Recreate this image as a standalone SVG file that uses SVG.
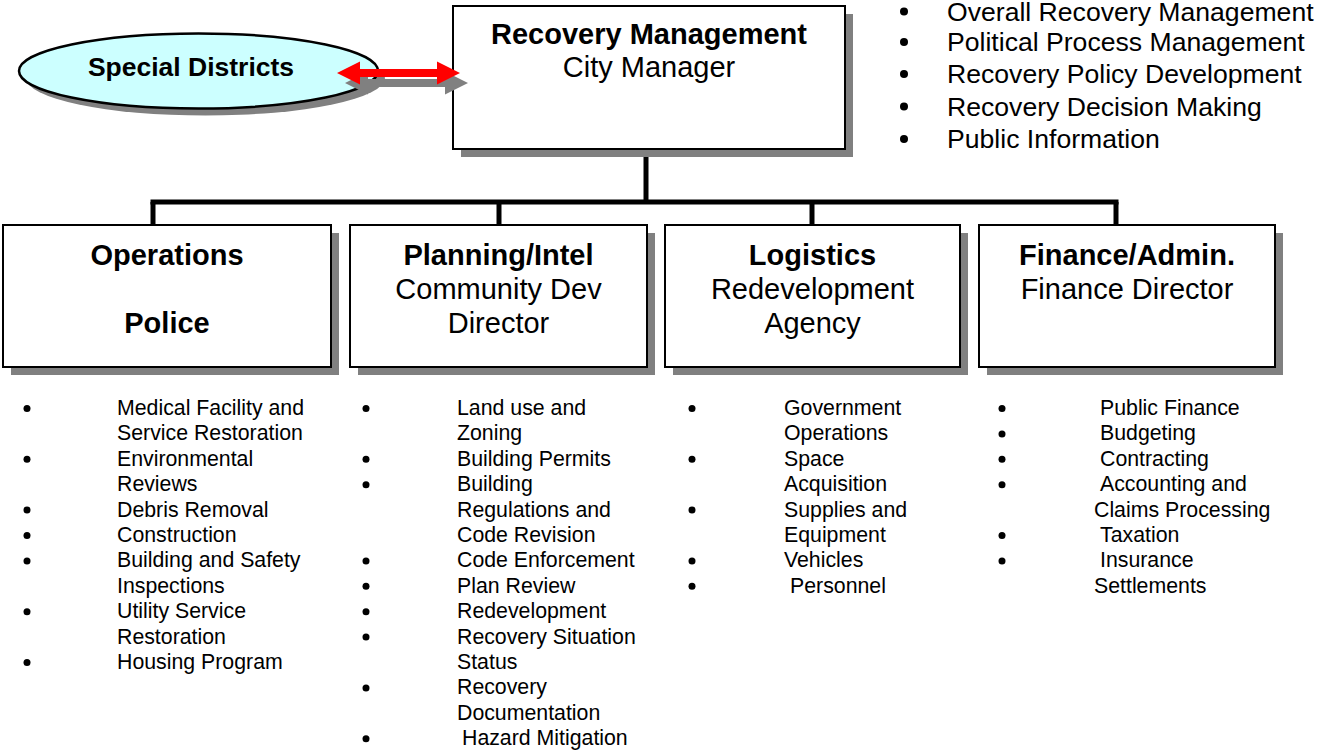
<svg xmlns="http://www.w3.org/2000/svg" width="1317" height="755" viewBox="0 0 1317 755">
<style>
.sh{fill:#808080;stroke:none}
.box{fill:#fff;stroke:#000;stroke-width:2}
.t{font-family:"Liberation Sans",Arial,sans-serif;fill:#000}
.tb{font-weight:bold;font-size:29px;text-anchor:middle}
.tr{font-size:29px;text-anchor:middle}
.li{font-size:21.3px}
.top{font-size:26.6px}
.bu{fill:#000}
.conn{stroke:#000;stroke-width:5;fill:none}
</style>
<rect width="1317" height="755" fill="#fff"/>

<g id="connectors">
<line class="conn" x1="646" y1="149" x2="646" y2="202"/>
<line class="conn" x1="150.5" y1="202" x2="1118.5" y2="202"/>
<line class="conn" x1="153" y1="202" x2="153" y2="226"/>
<line class="conn" x1="499" y1="202" x2="499" y2="226"/>
<line class="conn" x1="812" y1="202" x2="812" y2="226"/>
<line class="conn" x1="1116" y1="202" x2="1116" y2="226"/>
</g>

<g id="node-special-districts">
<ellipse cx="205.5" cy="78" rx="179.5" ry="37.5" class="sh"/>
<ellipse cx="198.5" cy="71" rx="179.5" ry="37.5" fill="#CCFFFF" stroke="#000" stroke-width="2.5"/>
<text class="t" x="191" y="76" font-size="26.5" font-weight="bold" text-anchor="middle">Special Districts</text>
</g>

<g id="node-recovery-management">
<rect x="461" y="14" width="392" height="143" class="sh"/>
<rect x="453" y="6" width="392" height="143" class="box"/>
<text class="t tb" x="649" y="44">Recovery Management</text>
<text class="t tr" x="649" y="77">City Manager</text>
</g>

<g id="link-arrow">
<polygon class="sh" points="345,83 368,71.5 368,79 445,79 445,71.5 468,83 445,94.5 445,87 368,87 368,94.5"/>
<polygon fill="#FF0000" points="337,73 360,61.5 360,69 437,69 437,61.5 460,73 437,84.5 437,77 360,77 360,84.5"/>
</g>

<g id="node-top-bullets">
<circle class="bu" cx="904" cy="11.5" r="4"/>
<circle class="bu" cx="904" cy="42" r="4"/>
<circle class="bu" cx="904" cy="74" r="4"/>
<circle class="bu" cx="904" cy="106.5" r="4"/>
<circle class="bu" cx="904" cy="139" r="4"/>
<text class="t top" x="947" y="21">Overall Recovery Management</text>
<text class="t top" x="947" y="51">Political Process Management</text>
<text class="t top" x="947" y="83">Recovery Policy Development</text>
<text class="t top" x="947" y="115.5">Recovery Decision Making</text>
<text class="t top" x="947" y="148">Public Information</text>
</g>

<g id="node-operations">
<rect x="11" y="233" width="328" height="142" class="sh"/>
<rect x="3" y="225" width="328" height="142" class="box"/>
<text class="t tb" x="167" y="265">Operations</text>
<text class="t tb" x="167" y="333">Police</text>
</g>

<g id="node-planning">
<rect x="358" y="233" width="297" height="142" class="sh"/>
<rect x="350" y="225" width="297" height="142" class="box"/>
<text class="t tb" x="498.5" y="265">Planning/Intel</text>
<text class="t tr" x="498.5" y="299">Community Dev</text>
<text class="t tr" x="498.5" y="333">Director</text>
</g>

<g id="node-logistics">
<rect x="673" y="233" width="295" height="142" class="sh"/>
<rect x="665" y="225" width="295" height="142" class="box"/>
<text class="t tb" x="812.5" y="265">Logistics</text>
<text class="t tr" x="812.5" y="299">Redevelopment</text>
<text class="t tr" x="812.5" y="333">Agency</text>
</g>

<g id="node-finance">
<rect x="987" y="233" width="296" height="142" class="sh"/>
<rect x="979" y="225" width="296" height="142" class="box"/>
<text class="t tb" x="1127" y="265">Finance/Admin.</text>
<text class="t tr" x="1127" y="299">Finance Director</text>
</g>

<g id="list-operations">
<circle class="bu" cx="27" cy="408.5" r="3.5"/>
<circle class="bu" cx="27" cy="459.3" r="3.5"/>
<circle class="bu" cx="27" cy="510.1" r="3.5"/>
<circle class="bu" cx="27" cy="535.5" r="3.5"/>
<circle class="bu" cx="27" cy="560.9" r="3.5"/>
<circle class="bu" cx="27" cy="611.7" r="3.5"/>
<circle class="bu" cx="27" cy="662.5" r="3.5"/>
<text class="t li" x="117" y="415">Medical Facility and</text>
<text class="t li" x="117" y="440.4">Service Restoration</text>
<text class="t li" x="117" y="465.8">Environmental</text>
<text class="t li" x="117" y="491.2">Reviews</text>
<text class="t li" x="117" y="516.6">Debris Removal</text>
<text class="t li" x="117" y="542">Construction</text>
<text class="t li" x="117" y="567.4">Building and Safety</text>
<text class="t li" x="117" y="592.8">Inspections</text>
<text class="t li" x="117" y="618.2">Utility Service</text>
<text class="t li" x="117" y="643.6">Restoration</text>
<text class="t li" x="117" y="669">Housing Program</text>
</g>

<g id="list-planning">
<circle class="bu" cx="366" cy="408.5" r="3.5"/>
<circle class="bu" cx="366" cy="459.3" r="3.5"/>
<circle class="bu" cx="366" cy="484.7" r="3.5"/>
<circle class="bu" cx="366" cy="560.9" r="3.5"/>
<circle class="bu" cx="366" cy="586.3" r="3.5"/>
<circle class="bu" cx="366" cy="611.7" r="3.5"/>
<circle class="bu" cx="366" cy="637.1" r="3.5"/>
<circle class="bu" cx="366" cy="687.9" r="3.5"/>
<circle class="bu" cx="366" cy="738.7" r="3.5"/>
<text class="t li" x="457" y="415">Land use and</text>
<text class="t li" x="457" y="440.4">Zoning</text>
<text class="t li" x="457" y="465.8">Building Permits</text>
<text class="t li" x="457" y="491.2">Building</text>
<text class="t li" x="457" y="516.6">Regulations and</text>
<text class="t li" x="457" y="542">Code Revision</text>
<text class="t li" x="457" y="567.4">Code Enforcement</text>
<text class="t li" x="457" y="592.8">Plan Review</text>
<text class="t li" x="457" y="618.2">Redevelopment</text>
<text class="t li" x="457" y="643.6">Recovery Situation</text>
<text class="t li" x="457" y="669">Status</text>
<text class="t li" x="457" y="694.4">Recovery</text>
<text class="t li" x="457" y="719.8">Documentation</text>
<text class="t li" x="462" y="745.2">Hazard Mitigation</text>
</g>

<g id="list-logistics">
<circle class="bu" cx="692" cy="408.5" r="3.5"/>
<circle class="bu" cx="692" cy="459.3" r="3.5"/>
<circle class="bu" cx="692" cy="510.1" r="3.5"/>
<circle class="bu" cx="692" cy="560.9" r="3.5"/>
<circle class="bu" cx="692" cy="586.3" r="3.5"/>
<text class="t li" x="784" y="415">Government</text>
<text class="t li" x="784" y="440.4">Operations</text>
<text class="t li" x="784" y="465.8">Space</text>
<text class="t li" x="784" y="491.2">Acquisition</text>
<text class="t li" x="784" y="516.6">Supplies and</text>
<text class="t li" x="784" y="542">Equipment</text>
<text class="t li" x="784" y="567.4">Vehicles</text>
<text class="t li" x="790" y="592.8">Personnel</text>
</g>

<g id="list-finance">
<circle class="bu" cx="1002" cy="408.5" r="3.5"/>
<circle class="bu" cx="1002" cy="433.9" r="3.5"/>
<circle class="bu" cx="1002" cy="459.3" r="3.5"/>
<circle class="bu" cx="1002" cy="484.7" r="3.5"/>
<circle class="bu" cx="1002" cy="535.5" r="3.5"/>
<circle class="bu" cx="1002" cy="560.9" r="3.5"/>
<text class="t li" x="1100" y="415">Public Finance</text>
<text class="t li" x="1100" y="440.4">Budgeting</text>
<text class="t li" x="1100" y="465.8">Contracting</text>
<text class="t li" x="1100" y="491.2">Accounting and</text>
<text class="t li" x="1094" y="516.6">Claims Processing</text>
<text class="t li" x="1100" y="542">Taxation</text>
<text class="t li" x="1100" y="567.4">Insurance</text>
<text class="t li" x="1094" y="592.8">Settlements</text>
</g>
</svg>
